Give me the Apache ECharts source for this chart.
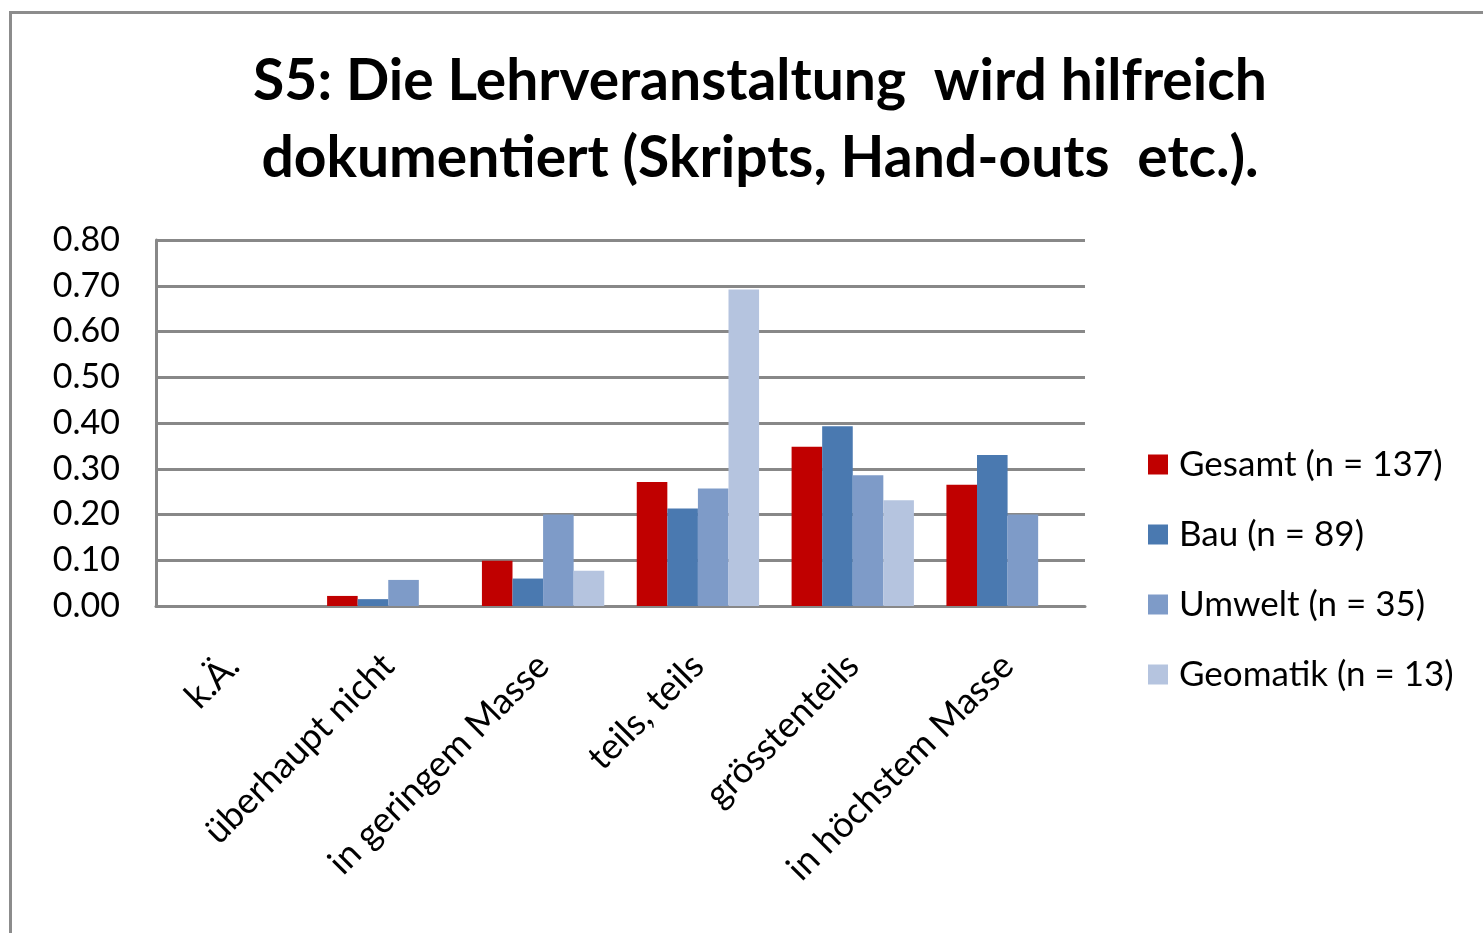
<!DOCTYPE html>
<html>
<head>
<meta charset="utf-8">
<title>S5</title>
<script src="https://cdn.jsdelivr.net/npm/echarts@6/dist/echarts.min.js"></script>
<style>
    html, body {margin:0;padding:0;background:#fff;}
    #frame {position:absolute;left:9px;top:11px;right:-5px;bottom:-5px;border-left:3px solid #8c8c8c;border-top:3px solid #8c8c8c;}
    #chart {position:absolute;left:0;top:0;width:1483px;height:933px;}
</style>
</head>
<body>
<div id="frame"></div>
<div id="chart"></div>
<script>
    var categories = ['k.Ä.', 'überhaupt nicht', 'in geringem Masse', 'teils, teils', 'grösstenteils', 'in höchstem Masse'];
    var yTicks = [0, 0.1, 0.2, 0.3, 0.4, 0.5, 0.6, 0.7, 0.8];

    var gesamt   = [0, 0.022, 0.099, 0.271, 0.348, 0.265];
    var bau      = [0, 0.015, 0.060, 0.213, 0.393, 0.330];
    var umwelt   = [0, 0.057, 0.200, 0.257, 0.286, 0.200];
    var geomatik = [0, 0,     0.077, 0.692, 0.231, 0];

    var seriesNames = ['Gesamt (n = 137)', 'Bau (n = 89)', 'Umwelt (n = 35)', 'Geomatik (n = 13)'];
    var seriesColors = ['#c00000', '#4a79b0', '#7e9bc8', '#b5c4df'];
    var seriesData = [gesamt, bau, umwelt, geomatik];

    var font = 'Lato, "Open Sans", sans-serif';

    var chart = echarts.init(document.getElementById('chart'));

    var series = [];
    seriesData.forEach(function (data, i) {
        series.push({
            name: seriesNames[i],
            type: 'bar',
            data: data,
            barGap: 0,
            barCategoryGap: '21%',
            itemStyle: {color: seriesColors[i]},
            animation: false
        });
    });

    var option = {
        backgroundColor: 'transparent',
        title: {
            text: 'S5: Die Lehrveranstaltung  wird hilfreich\ndokumentiert (Skripts, Hand-outs  etc.).',
            left: 755,
            textAlign: 'center',
            top: 38,
            textStyle: {fontFamily: font, fontSize: 57, fontWeight: 'bold', color: '#000', lineHeight: 77}
        },
        legend: {
            orient: 'vertical',
            left: 1148,
            top: 447,
            padding: 0,
            itemWidth: 20,
            itemHeight: 20,
            itemGap: 35,
            icon: 'rect',
            data: seriesNames,
            textStyle: {fontFamily: font, fontSize: 35, color: '#000', lineHeight: 32, padding: [0, 0, 0, 6]}
        },
        grid: {
            left: 156,
            right: 398,
            top: 240,
            bottom: 327,
            containLabel: false
        },
        xAxis: {
            type: 'category',
            data: categories,
            axisLine: {show: true, lineStyle: {color: '#888', width: 3}},
            axisTick: {show: false},
            axisLabel: {
                rotate: 45,
                margin: 54,
                interval: 0,
                fontFamily: font,
                fontSize: 36,
                color: '#000'
            }
        },
        yAxis: {
            type: 'value',
            min: yTicks[0],
            max: yTicks[yTicks.length - 1],
            interval: 0.1,
            axisLine: {show: true, lineStyle: {color: '#888', width: 3}},
            axisTick: {show: false},
            splitLine: {show: true, lineStyle: {color: '#888', width: 3}},
            axisLabel: {
                margin: 36,
                fontFamily: font,
                fontSize: 34,
                color: '#000',
                padding: [6, 0, 0, 0],
                formatter: function (v) { return v.toFixed(2); }
            }
        },
        series: series
    };
    chart.setOption(option);
</script>
</body>
</html>
